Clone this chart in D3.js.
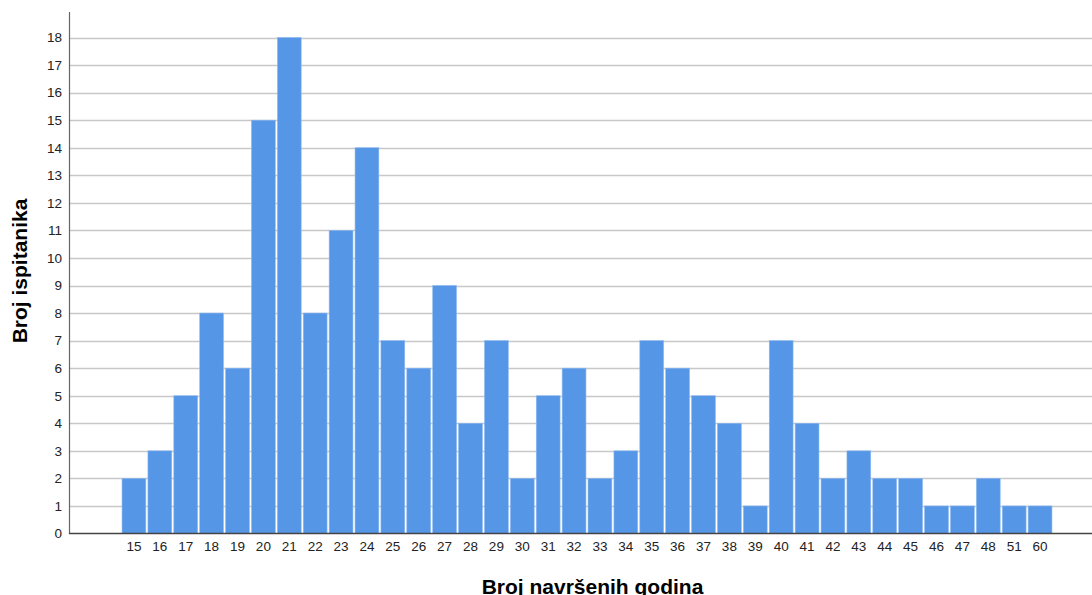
<!DOCTYPE html>
<html>
<head>
<meta charset="utf-8">
<script src="https://cdn.jsdelivr.net/npm/d3@7"></script>
<style>
  html, body { margin: 0; padding: 0; background: #fff; }
  svg { display: block; }
</style>
</head>
<body>
<svg id="chart" width="1092" height="595"></svg>
<script>
const categories = ["15","16","17","18","19","20","21","22","23","24","25","26","27","28","29","30","31","32","33","34","35","36","37","38","39","40","41","42","43","44","45","46","47","48","51","60"];
const counts = [2,3,5,8,6,15,18,8,11,14,7,6,9,4,7,2,5,6,2,3,7,6,5,4,1,7,4,2,3,2,2,1,1,2,1,1];
const yTicks = [0,1,2,3,4,5,6,7,8,9,10,11,12,13,14,15,16,17,18];
const xTitle = "Broj navršenih godina";
const yTitle = "Broj ispitanika";

const svg = d3.select("#chart");
const axisX = 69, plotTop = 12, plotRight = 1092;

const x = d3.scaleBand().domain(categories).range([121, 1053]).paddingInner(0.08).paddingOuter(0.04);
const y = d3.scaleLinear().domain([0, 18]).range([533.5, 37.5]);

// gridlines
svg.append("g").selectAll("line").data(yTicks.filter(d => d > 0)).join("line")
  .attr("x1", axisX).attr("x2", plotRight)
  .attr("y1", d => Math.round(y(d)) + 0.5).attr("y2", d => Math.round(y(d)) + 0.5)
  .attr("stroke", "#c8c8c8").attr("stroke-width", 1.3);

// bars
svg.append("g").selectAll("rect").data(counts).join("rect")
  .attr("x", (d, i) => x(categories[i]))
  .attr("width", x.bandwidth())
  .attr("y", d => y(d))
  .attr("height", d => y(0) - y(d))
  .attr("fill", "#5596e6")
  .attr("stroke", "#8fbaf0").attr("stroke-width", 0.6);

// y axis
const yAxis = d3.axisLeft(y).tickValues(yTicks).tickSize(0).tickPadding(7).tickFormat(d3.format("d"));
const gy = svg.append("g").attr("transform", `translate(${axisX},0)`).call(yAxis);
gy.select(".domain").remove();
gy.attr("font-size", null);
gy.selectAll("text").attr("font-family", "Arial, 'Liberation Sans', sans-serif").style("font-size", "13.5px").attr("fill", "#222");
svg.append("line").attr("x1", axisX + 0.5).attr("x2", axisX + 0.5).attr("y1", plotTop).attr("y2", 534)
  .attr("stroke", "#666").attr("stroke-width", 1.2);

// x axis
const xAxis = d3.axisBottom(x).tickSize(0).tickPadding(8);
const gx = svg.append("g").attr("transform", `translate(0,${y(0)})`).call(xAxis);
gx.select(".domain").remove();
gx.attr("font-size", null);
gx.selectAll("text").attr("font-family", "Arial, 'Liberation Sans', sans-serif").style("font-size", "13.5px").attr("fill", "#222");
svg.append("line").attr("x1", axisX).attr("x2", plotRight).attr("y1", 533.5).attr("y2", 533.5)
  .attr("stroke", "#444").attr("stroke-width", 1.4);

// titles
svg.append("text").attr("x", 592.5).attr("y", 594).attr("text-anchor", "middle")
  .attr("font-family", "Arial, 'Liberation Sans', sans-serif").attr("font-weight", "bold").attr("font-size", 21)
  .attr("fill", "#000").text(xTitle);
svg.append("text").attr("transform", "translate(26.7,271) rotate(-90)").attr("text-anchor", "middle")
  .attr("font-family", "Arial, 'Liberation Sans', sans-serif").attr("font-weight", "bold").attr("font-size", 21)
  .attr("fill", "#000").text(yTitle);
</script>
</body>
</html>
